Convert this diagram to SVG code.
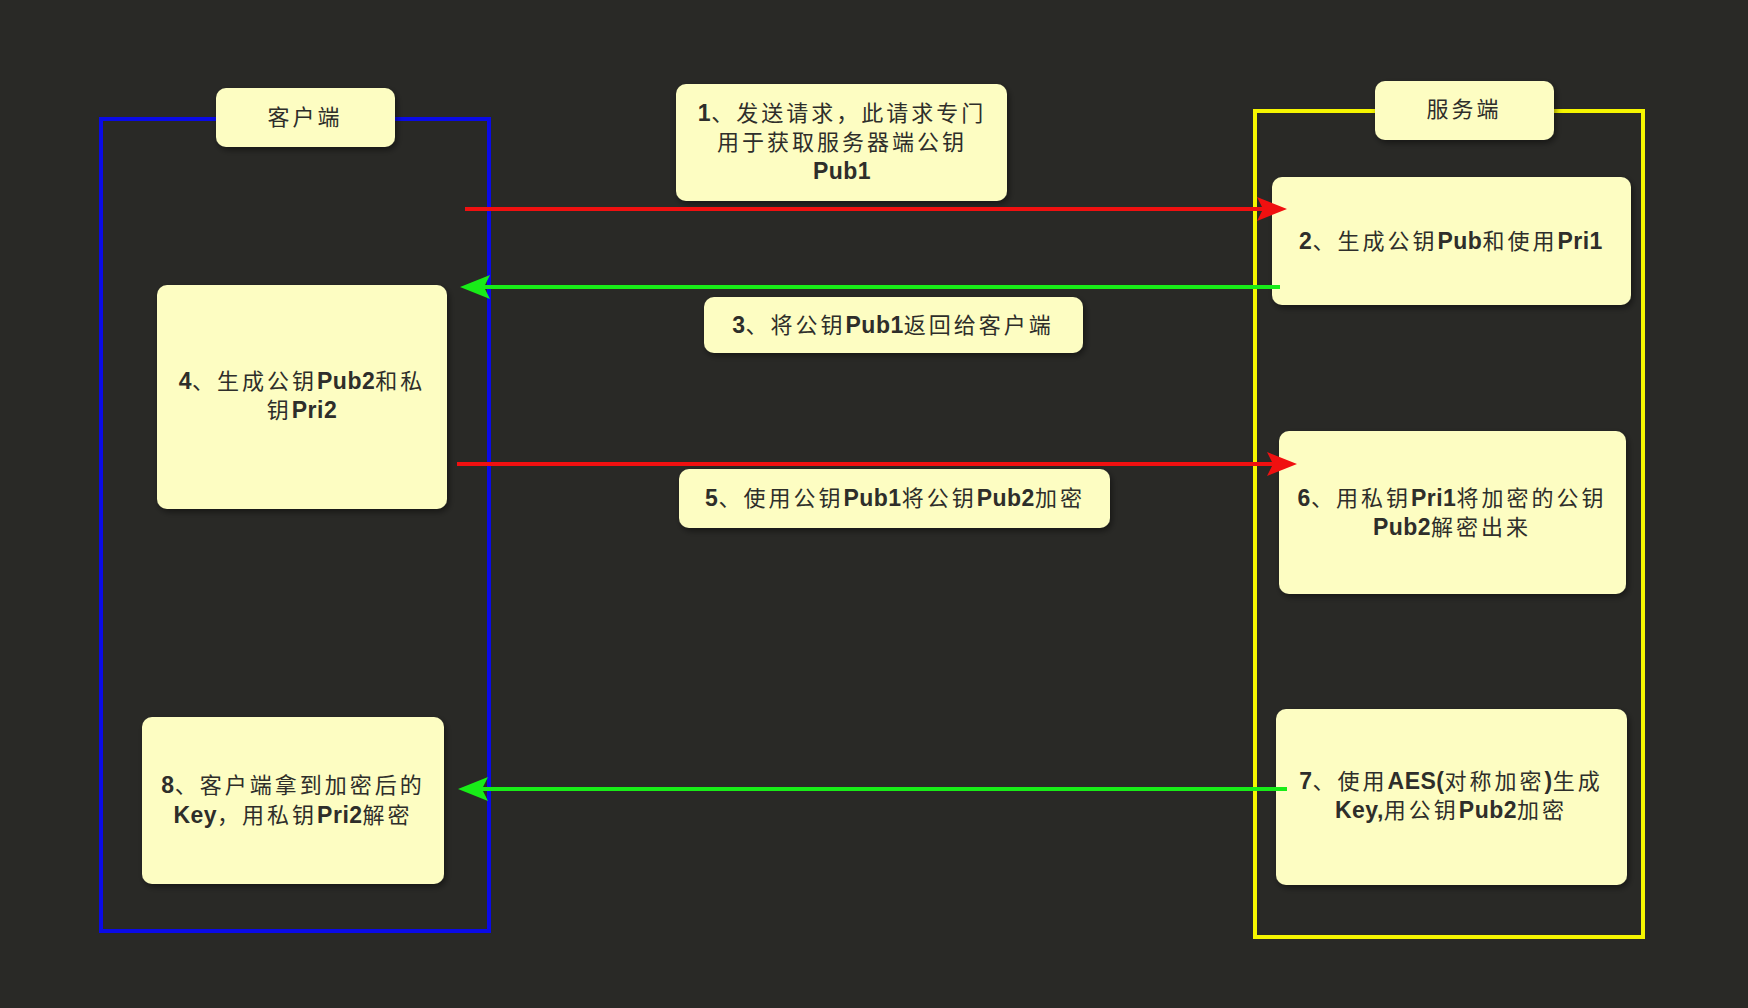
<svg xmlns="http://www.w3.org/2000/svg" width="1748" height="1008" viewBox="0 0 1748 1008">
<style>
.box{fill:#fdfdc2;filter:url(#sh)}
.t{font-family:"Liberation Sans","Noto Sans CJK SC",sans-serif;font-size:22px;fill:#2e2e2a;text-anchor:middle;letter-spacing:3px}
.b{font-weight:bold;font-size:23px;letter-spacing:0.5px}
.lane{fill:none;stroke-width:4}
.ln{stroke-width:4;fill:none}
</style>
<defs>
<filter id="sh" x="-10%" y="-10%" width="125%" height="130%">
<feDropShadow dx="2" dy="3" stdDeviation="3" flood-color="#000" flood-opacity="0.45"/>
</filter>
<marker id="ar" markerUnits="userSpaceOnUse" viewBox="0 0 30 24" markerWidth="30" markerHeight="24" refX="6" refY="12" orient="auto">
<path d="M0,0 L30,12 L0,24 L6,12 Z" fill="#f01010"/>
</marker>
<marker id="ag" markerUnits="userSpaceOnUse" viewBox="0 0 30 24" markerWidth="30" markerHeight="24" refX="6" refY="12" orient="auto">
<path d="M0,0 L30,12 L0,24 L6,12 Z" fill="#18ec18"/>
</marker>
</defs>
<rect width="1748" height="1008" fill="#292926"/>

<g id="client-lane">
<rect class="lane" x="101" y="119" width="388" height="812" stroke="#0a0ae6"/>
</g>
<g id="server-lane">
<rect class="lane" x="1255" y="111" width="388" height="826" stroke="#f5f500"/>
</g>

<g id="client-label">
<rect class="box" x="216" y="88" width="179" height="59" rx="10"/>
<text class="t" x="305" y="125">客户端</text>
</g>
<g id="server-label">
<rect class="box" x="1375" y="81" width="179" height="59" rx="10"/>
<text class="t" x="1464" y="117">服务端</text>
</g>

<g id="n1">
<rect class="box" x="676" y="84" width="331" height="117" rx="10"/>
<text class="t" x="842" y="121"><tspan class="b">1</tspan>、发送请求，此请求专门</text>
<text class="t" x="842" y="150">用于获取服务器端公钥</text>
<text class="t" x="842" y="179"><tspan class="b">Pub1</tspan></text>
</g>
<g id="n2">
<rect class="box" x="1272" y="177" width="359" height="128" rx="10"/>
<text class="t" x="1451" y="249"><tspan class="b">2</tspan>、生成公钥<tspan class="b">Pub</tspan>和使用<tspan class="b">Pri1</tspan></text>
</g>
<g id="n3">
<rect class="box" x="704" y="297" width="379" height="56" rx="10"/>
<text class="t" x="893" y="333"><tspan class="b">3</tspan>、将公钥<tspan class="b">Pub1</tspan>返回给客户端</text>
</g>
<g id="n4">
<rect class="box" x="157" y="285" width="290" height="224" rx="10"/>
<text class="t" x="302" y="389"><tspan class="b">4</tspan>、生成公钥<tspan class="b">Pub2</tspan>和私</text>
<text class="t" x="302" y="418">钥<tspan class="b">Pri2</tspan></text>
</g>
<g id="n5">
<rect class="box" x="679" y="469" width="431" height="59" rx="10"/>
<text class="t" x="895" y="506"><tspan class="b">5</tspan>、使用公钥<tspan class="b">Pub1</tspan>将公钥<tspan class="b">Pub2</tspan>加密</text>
</g>
<g id="n6">
<rect class="box" x="1279" y="431" width="347" height="163" rx="10"/>
<text class="t" x="1452" y="506"><tspan class="b">6</tspan>、用私钥<tspan class="b">Pri1</tspan>将加密的公钥</text>
<text class="t" x="1452" y="535"><tspan class="b">Pub2</tspan>解密出来</text>
</g>
<g id="n7">
<rect class="box" x="1276" y="709" width="351" height="176" rx="10"/>
<text class="t" x="1451" y="789"><tspan class="b">7</tspan>、使用<tspan class="b">AES(</tspan>对称加密<tspan class="b">)</tspan>生成</text>
<text class="t" x="1451" y="818"><tspan class="b">Key,</tspan>用公钥<tspan class="b">Pub2</tspan>加密</text>
</g>
<g id="n8">
<rect class="box" x="142" y="717" width="302" height="167" rx="10"/>
<text class="t" x="293" y="793"><tspan class="b">8</tspan>、客户端拿到加密后的</text>
<text class="t" x="293" y="823"><tspan class="b">Key</tspan>，用私钥<tspan class="b">Pri2</tspan>解密</text>
</g>

<g id="connectors">
<line class="ln" x1="465" y1="209" x2="1263" y2="209" stroke="#f01010" marker-end="url(#ar)"/>
<line class="ln" x1="1280" y1="287" x2="484" y2="287" stroke="#18ec18" marker-end="url(#ag)"/>
<line class="ln" x1="457" y1="464" x2="1273" y2="464" stroke="#f01010" marker-end="url(#ar)"/>
<line class="ln" x1="1287" y1="789" x2="482" y2="789" stroke="#18ec18" marker-end="url(#ag)"/>
</g>
</svg>
